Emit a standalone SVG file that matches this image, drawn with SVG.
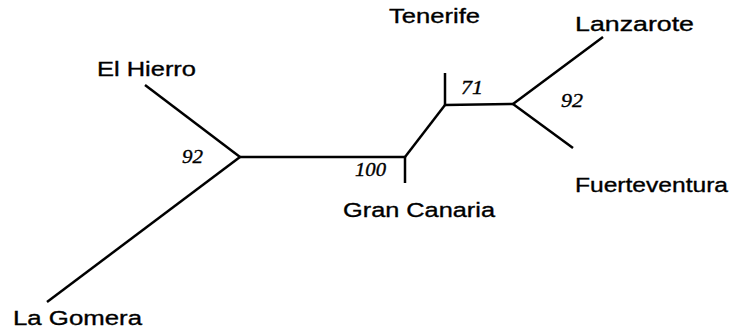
<svg xmlns="http://www.w3.org/2000/svg" width="738" height="333" viewBox="0 0 738 333">
  <style>
    .taxon { font-family: "Liberation Sans", Arial, sans-serif; font-size: 20.5px; fill: #000; stroke: #000; stroke-width: 0.35; }
    .support { font-family: "Liberation Serif", "Times New Roman", serif; font-style: italic; font-size: 18px; fill: #000; stroke: #000; stroke-width: 0.35; }
    .edge { stroke: #000; stroke-width: 2.5; fill: none; stroke-linecap: butt; stroke-linejoin: miter; }
  </style>
  <rect width="738" height="333" fill="#fff"/>

  <!-- tree branches -->
  <g id="connectors">
    <line class="edge" x1="145" y1="85" x2="240" y2="157"/>
    <line class="edge" x1="240" y1="157" x2="47" y2="302"/>
    <line class="edge" x1="240" y1="157" x2="405" y2="157"/>
    <line class="edge" x1="405" y1="156" x2="405" y2="183"/>
    <line class="edge" x1="405" y1="157" x2="445" y2="105"/>
    <line class="edge" x1="445" y1="73" x2="445" y2="106"/>
    <line class="edge" x1="445" y1="105" x2="513" y2="104"/>
    <line class="edge" x1="513" y1="104" x2="603" y2="37"/>
    <line class="edge" x1="513" y1="104" x2="573" y2="148"/>
  </g>

  <!-- island labels -->
  <g id="el-hierro"><text class="taxon" x="97" y="76" textLength="99" lengthAdjust="spacingAndGlyphs">El Hierro</text></g>
  <g id="la-gomera"><text class="taxon" x="13" y="325" textLength="129" lengthAdjust="spacingAndGlyphs">La Gomera</text></g>
  <g id="tenerife"><text class="taxon" x="389" y="23" textLength="91" lengthAdjust="spacingAndGlyphs">Tenerife</text></g>
  <g id="gran-canaria"><text class="taxon" x="343" y="217" textLength="152" lengthAdjust="spacingAndGlyphs">Gran Canaria</text></g>
  <g id="lanzarote"><text class="taxon" x="575" y="31" textLength="119" lengthAdjust="spacingAndGlyphs">Lanzarote</text></g>
  <g id="fuerteventura"><text class="taxon" x="575" y="192" textLength="153" lengthAdjust="spacingAndGlyphs">Fuerteventura</text></g>

  <!-- bootstrap support values -->
  <g id="supports">
    <text class="support" x="182" y="163" textLength="21" lengthAdjust="spacingAndGlyphs">92</text>
    <text class="support" x="355" y="176" textLength="31" lengthAdjust="spacingAndGlyphs">100</text>
    <text class="support" x="461" y="94" textLength="22" lengthAdjust="spacingAndGlyphs">71</text>
    <text class="support" x="561" y="107" textLength="22" lengthAdjust="spacingAndGlyphs">92</text>
  </g>
</svg>
